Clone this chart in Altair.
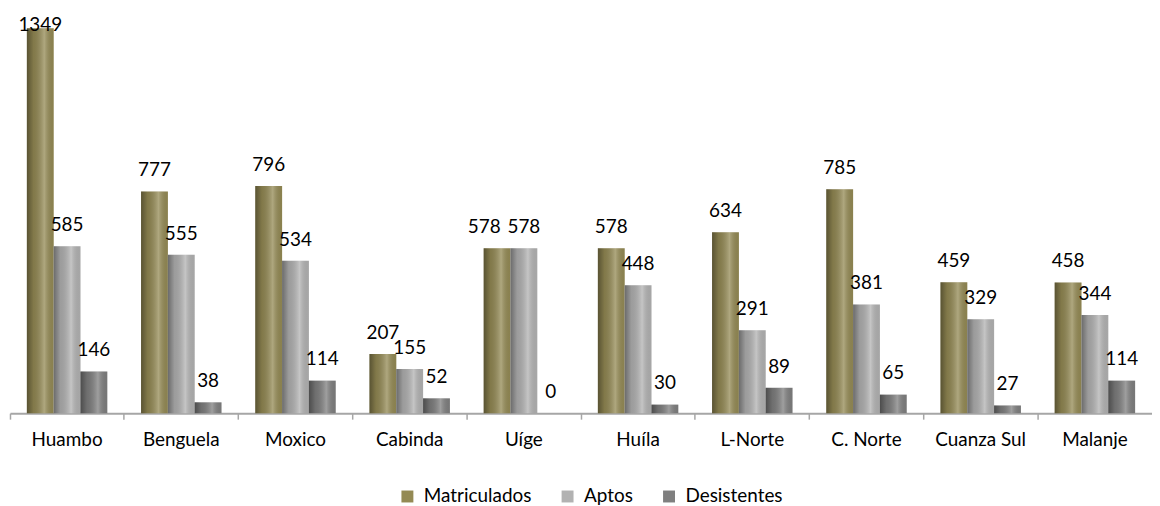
import altair as alt
import pandas as pd

regions = ["Huambo", "Benguela", "Moxico", "Cabinda", "Uíge", "Huíla", "L-Norte", "C. Norte", "Cuanza Sul", "Malanje"]
series = ["Matriculados", "Aptos", "Desistentes"]
matriculados = [1349, 777, 796, 207, 578, 578, 634, 785, 459, 458]
aptos = [585, 555, 534, 155, 578, 448, 291, 381, 329, 344]
desistentes = [146, 38, 114, 52, 0, 30, 89, 65, 27, 114]
colors = ["#948a54", "#b2b2b2", "#7f7f7f"]

rows = []
for i, r in enumerate(regions):
    for s, vals in zip(series, [matriculados, aptos, desistentes]):
        rows.append({
            "region": r, "series": s, "value": vals[i],
            # label collides with its neighbour when both bars are equally tall (Uíge)
            "same": s == "Matriculados" and vals[i] == aptos[i],
        })
df = pd.DataFrame(rows)

FONT = "Lato"
FS = 19
ymax = 1349

x = alt.X("region:N", sort=regions, scale=alt.Scale(paddingInner=0, paddingOuter=0),
          axis=alt.Axis(title=None, labelAngle=0, labelFont=FONT, labelFontSize=FS,
                        labelColor="#000000", labelPadding=11, domainColor="#a6a6a6",
                        domainWidth=2, tickColor="#a6a6a6", tickSize=6, tickWidth=1.5,
                        bandPosition=0))
xo = alt.XOffset("series:N", sort=series,
                 scale=alt.Scale(domain=series, paddingInner=0, paddingOuter=0.63))
yscale = alt.Scale(domain=[0, ymax], nice=False, zero=True)
y = alt.Y("value:Q", scale=yscale, axis=None)

base = alt.Chart(df)

bars = base.mark_bar(size=27).encode(
    x=x, xOffset=xo, y=y,
    color=alt.Color("series:N", sort=series,
                    scale=alt.Scale(domain=series, range=colors),
                    legend=alt.Legend(title=None, orient="none", direction="horizontal",
                                      legendX=390, legendY=461, labelFont=FONT,
                                      labelFontSize=FS, labelColor="#000000",
                                      symbolType="square", symbolSize=144,
                                      symbolStrokeWidth=0, columnPadding=26,
                                      labelOffset=7)),
)

shade = base.mark_bar(
    fill=alt.Gradient(
        gradient="linear", x1=0, x2=1, y1=0, y2=0,
        stops=[
            alt.GradientStop(offset=0, color="rgba(0,0,0,0.40)"),
            alt.GradientStop(offset=0.25, color="rgba(0,0,0,0.12)"),
            alt.GradientStop(offset=0.65, color="rgba(255,255,255,0.25)"),
            alt.GradientStop(offset=1, color="rgba(0,0,0,0.06)"),
        ],
    )
).encode(x=x, xOffset=xo, y=y)

label_enc = dict(
    x=x, xOffset=xo,
    y=alt.Y("labelv:Q", scale=yscale, axis=None),
    text=alt.Text("value:Q"),
)
lbase = base.transform_calculate(labelv=f"min(datum.value + 74, {ymax} + 10)")
labels_normal = lbase.transform_filter("!datum.same").mark_text(
    font=FONT, fontSize=FS, color="#000000", baseline="middle").encode(**label_enc)
labels_nudged = lbase.transform_filter("datum.same").mark_text(
    font=FONT, fontSize=FS, color="#000000", baseline="middle", dx=-13).encode(**label_enc)

chart = alt.layer(bars, shade, labels_normal, labels_nudged).properties(
    width=1148, height=387,
    padding={"left": 2, "top": 19, "right": 0, "bottom": 92},
    autosize=alt.AutoSizeParams(type="none"),
).configure_view(stroke=None)

chart.save("out.html", embed_options={"renderer": "svg", "actions": False})
